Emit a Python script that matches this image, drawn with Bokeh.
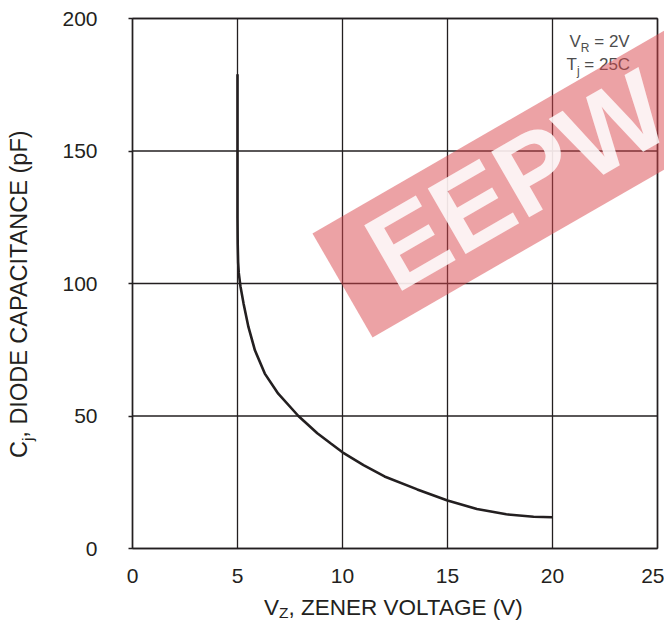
import math
from bokeh.plotting import figure
from bokeh.models import Range1d, FixedTicker
from bokeh.core.properties import value
from bokeh.embed import file_html
from bokeh.resources import INLINE

# ---------------- data ----------------
zener_v = [5.0, 5.0, 5.0, 5.01, 5.03, 5.06, 5.14, 5.29, 5.52, 5.83, 6.3, 6.94, 7.9,
           8.8, 9.43, 10.0, 11.0, 12.0, 13.56, 15.0, 16.4, 17.8, 19.1, 20.0]
cap_pf = [179, 150, 125, 115, 108, 104, 99, 92.4, 83.6, 74.8, 66, 58.4, 50,
          43.5, 39.7, 36.3, 31.5, 27.2, 22.3, 18.1, 14.9, 12.9, 12.0, 11.8]
x_ticks = [0, 5, 10, 15, 20, 25]
y_ticks = [0, 50, 100, 150, 200]
x_title = ["V", "Z", ", ZENER VOLTAGE (V)"]
y_title = ["C", "j", ", DIODE CAPACITANCE (pF)"]
note1 = ["V", "R", " = 2V"]
note2 = ["T", "j", " = 25C"]
watermark_text = "EEPW"
watermark_x = [8.57, 11.43, 28.8, 25.9]
watermark_y = [118.9, 79.6, 158.9, 198.1]

# ---------------- style / geometry ----------------
FONT = "Liberation Sans"
INK = "#231f20"
NOTE_INK = "#4d4d4d"
X0, X1, Y0, Y1 = 0, 25, 0, 200
W, H = 664, 620                 # canvas
BOX_L, BOX_T = 132, 18          # plot box position on the canvas (px)
BOX_W, BOX_H = 525, 530
PX = BOX_W / (X1 - X0)
PY = BOX_H / (Y1 - Y0)
TICK_FS = 21
XTITLE_FS = 22.5
YTITLE_FS = 23.5
TITLE_SUB_FS = 15.5
NOTE_FS = 17
NOTE_SUB_FS = 12
BASE_SHIFT = 0.35   # renderer's baseline lies this many em below the anchor

EM = {'V': .667, 'Z': .611, ',': .278, ' ': .278, 'E': .667, 'N': .722, 'R': .722,
      'O': .778, 'L': .556, 'T': .611, 'A': .667, 'G': .778, '(': .333, ')': .333,
      'C': .722, 'D': .722, 'I': .278, 'P': .667, 'p': .556, 'F': .611, 'j': .222,
      '=': .584, '2': .556, '5': .556}


def tw(s, size):
    return sum(EM.get(c, 0.6) for c in s) * size


def dx(px):   # canvas px -> data x
    return X0 + (px - BOX_L) / PX


def dy(py):   # canvas px (from top) -> data y
    return Y0 + (BOX_T + BOX_H - py) / PY


p = figure(width=W, height=H,
           x_range=Range1d(dx(0), dx(W)), y_range=Range1d(dy(H), dy(0)),
           output_backend="svg", toolbar_location=None, min_border=0)
p.background_fill_color = "white"
p.border_fill_color = "white"
p.outline_line_color = None
p.grid.visible = False

for ax, ticks, loc in ((p.xaxis, x_ticks, Y0), (p.yaxis, y_ticks, X0)):
    ax.fixed_location = loc
    ax.ticker = FixedTicker(ticks=ticks)
    ax.minor_tick_line_color = None
    ax.axis_line_color = None
    ax.major_tick_line_color = INK
    ax.major_tick_line_width = 1.3
    ax.major_tick_in = 0
    ax.major_label_text_font = FONT
    ax.major_label_text_font_size = f"{TICK_FS}px"
    ax.major_label_text_color = INK
p.xaxis.major_tick_out = 0
p.xaxis.major_label_standoff = 20
p.yaxis.major_tick_out = 4
p.yaxis.major_label_standoff = 31

# grid lines and plot box
p.segment(x0=x_ticks, y0=[Y0] * len(x_ticks), x1=x_ticks, y1=[Y1] * len(x_ticks),
          line_color=INK, line_width=1.3)
p.segment(x0=[X0] * len(y_ticks), y0=y_ticks, x1=[X1] * len(y_ticks), y1=y_ticks,
          line_color=INK, line_width=1.3)
p.segment(x0=[X0, X1, X0, X0], y0=[Y0, Y0, Y0, Y1], x1=[X0, X1, X1, X1], y1=[Y1, Y1, Y0, Y1],
          line_color=INK, line_width=1.5)

# curve
p.line(zener_v, cap_pf, line_color=INK, line_width=2.6)


def sub_text(parts, x_px, base_px, fs, sfs, drop, color):
    """main text, subscript, rest; base_px is the wanted baseline (canvas px)."""
    y_px = base_px - BASE_SHIFT * fs
    w0 = tw(parts[0], fs)
    w1 = tw(parts[1], sfs)
    rest = parts[2]
    lead = len(rest) - len(rest.lstrip(" "))
    w_lead = tw(" " * lead, fs)
    p.text(x=[dx(x_px), dx(x_px + w0 + w1 + w_lead)], y=[dy(y_px)] * 2,
           text=[parts[0], rest.lstrip(" ")], text_font=value(FONT),
           text_font_size=f"{fs}px", text_color=color,
           text_align="left", text_baseline="alphabetic")
    p.text(x=[dx(x_px + w0)], y=[dy(base_px + drop - BASE_SHIFT * sfs)], text=[parts[1]],
           text_font=value(FONT), text_font_size=f"{sfs}px", text_color=color,
           text_align="left", text_baseline="alphabetic")


# condition notes, top right
sub_text(note1, 569, 47, NOTE_FS, NOTE_SUB_FS, 5, NOTE_INK)
sub_text(note2, 566, 70, NOTE_FS, NOTE_SUB_FS, 5, NOTE_INK)

# watermark band
p.patch(watermark_x, watermark_y, fill_color="#d9464c", fill_alpha=0.5, line_color=None)
p.text(x=[18.3], y=[139.0], text=[watermark_text], angle=math.radians(30),
       text_font=value(FONT), text_font_style="bold", text_font_size="110px",
       text_color="white", text_alpha=0.85, text_align="center", text_baseline="middle")

# x title
wx = tw(x_title[0], XTITLE_FS) + tw(x_title[1], TITLE_SUB_FS) + tw(x_title[2], XTITLE_FS)
sub_text(x_title, BOX_L + BOX_W / 2 - wx / 2, 614.5, XTITLE_FS, TITLE_SUB_FS, 3, INK)

# y title (rotated, reading upwards); baseline wanted at x = 27
wy = tw(y_title[0], YTITLE_FS) + tw(y_title[1], TITLE_SUB_FS) + tw(y_title[2], YTITLE_FS)
y_start = 292 + wy / 2
bx = 27 - BASE_SHIFT * YTITLE_FS
bxs = 32 - BASE_SHIFT * TITLE_SUB_FS
w0 = tw(y_title[0], YTITLE_FS)
w1 = tw(y_title[1], TITLE_SUB_FS)
p.text(x=[dx(bx), dx(bx)], y=[dy(y_start), dy(y_start - w0 - w1)],
       text=[y_title[0], y_title[2]], angle=math.pi / 2, text_font=value(FONT),
       text_font_size=f"{YTITLE_FS}px", text_color=INK,
       text_align="left", text_baseline="alphabetic")
p.text(x=[dx(bxs)], y=[dy(y_start - w0)], text=[y_title[1]],
       angle=math.pi / 2, text_font=value(FONT),
       text_font_size=f"{TITLE_SUB_FS}px", text_color=INK,
       text_align="left", text_baseline="alphabetic")

open("out.html", "w").write(file_html(p, INLINE))
